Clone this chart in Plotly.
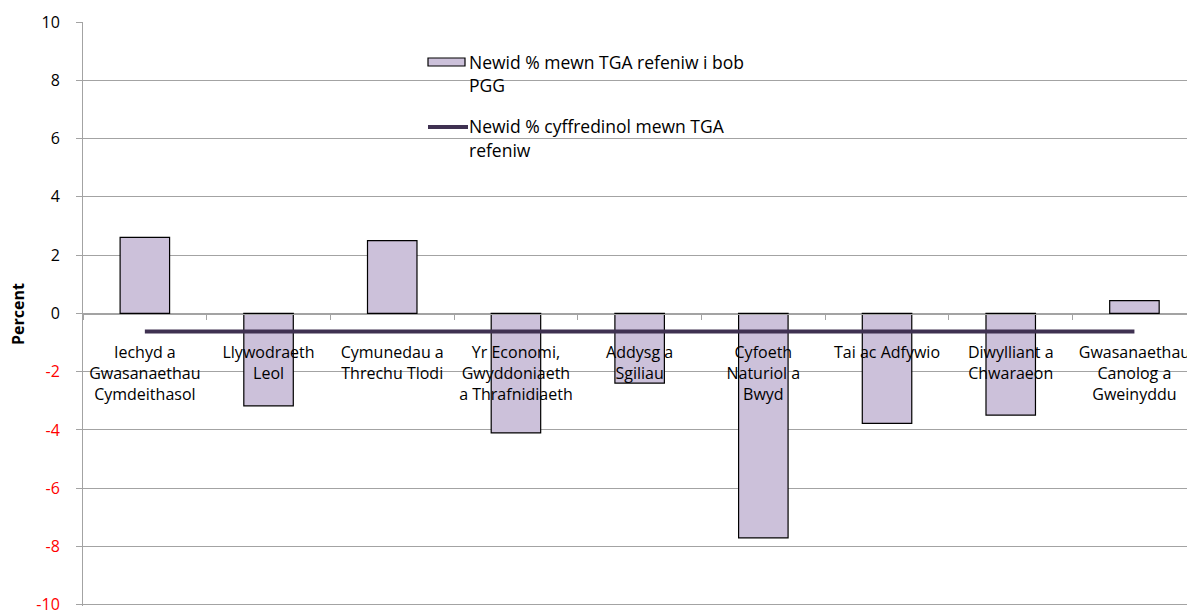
import plotly.graph_objects as go

categories = [
    "Iechyd a<br>Gwasanaethau<br>Cymdeithasol",
    "Llywodraeth<br>Leol",
    "Cymunedau a<br>Threchu Tlodi",
    "Yr Economi,<br>Gwyddoniaeth<br>a Thrafnidiaeth",
    "Addysg a<br>Sgiliau",
    "Cyfoeth<br>Naturiol a<br>Bwyd",
    "Tai ac Adfywio",
    "Diwylliant a<br>Chwaraeon",
    "Gwasanaethau<br>Canolog a<br>Gweinyddu",
]
bar_values = [2.61, -3.17, 2.50, -4.10, -2.39, -7.70, -3.77, -3.49, 0.44]
line_values = [-0.62, -0.62, -0.62, -0.62, -0.62, -0.62, -0.62, -0.62, -0.62]
bar_name = "Newid % mewn TGA refeniw i bob PGG"
line_name = "Newid % cyffredinol mewn TGA refeniw"
y_ticks = [-10, -8, -6, -4, -2, 0, 2, 4, 6, 8, 10]

FONT = "Open Sans"
W, H = 1187, 612
L, R, T, B = 83, 0, 22, 6
PW, PH = W - L - R, H - T - B

def px_x(px):
    return (px - L) / PW

def px_y(py):
    return (H - B - py) / PH

y_ticktext = [
    (f"<span style='color:#ff0000'>{v}</span>" if v < 0 else str(v)) for v in y_ticks
]

fig = go.Figure()
fig.add_trace(go.Bar(
    x=categories, y=bar_values, name=bar_name,
    marker=dict(color="#ccc1da", line=dict(color="#000000", width=1.2)),
    showlegend=False,
))
fig.add_trace(go.Scatter(
    x=categories, y=line_values, name=line_name, mode="lines",
    line=dict(color="#3f3151", width=4),
    showlegend=False,
))

grid = "#a3a3a3"
fig.update_layout(
    width=W, height=H,
    margin=dict(l=L, r=R, t=T, b=B, autoexpand=False),
    paper_bgcolor="white", plot_bgcolor="white",
    font=dict(family=FONT, size=16, color="#000000"),
    bargap=0.6,
    xaxis=dict(
        type="category",
        range=[-0.5, 8.425],
        anchor="free", position=0.5,
        automargin=False,
        showline=True, linecolor=grid, linewidth=1,
        ticks="outside", tickson="boundaries", ticklen=5, tickcolor=grid,
        showgrid=False, zeroline=False,
        ticklabelstandoff=24,
        tickfont=dict(family=FONT, size=16, color="#000000"),
    ),
    yaxis=dict(
        range=[-10.04, 10],
        automargin=False,
        tickvals=y_ticks, ticktext=y_ticktext,
        showline=True, linecolor=grid, linewidth=1,
        ticks="outside", ticklen=6, tickcolor=grid,
        showgrid=True, gridcolor=grid, gridwidth=1,
        zeroline=False,
        ticklabelstandoff=13,
        ticklabeloverflow="allow",
        tickfont=dict(family=FONT, size=16, color="#000000"),
    ),
)

# y axis title
fig.add_annotation(
    text="<b>Percent</b>", textangle=-90,
    xref="paper", yref="paper", x=px_x(18), y=0.5,
    xanchor="center", yanchor="middle", showarrow=False,
    font=dict(family=FONT, size=16, color="#000000"),
)

# legend (custom, to match swatch shapes)
fig.add_shape(type="rect", xref="paper", yref="paper",
              x0=px_x(428), x1=px_x(465), y0=px_y(66), y1=px_y(58),
              fillcolor="#ccc1da", line=dict(color="#000000", width=1.2))
fig.add_shape(type="line", xref="paper", yref="paper",
              x0=px_x(428), x1=px_x(468), y0=px_y(127), y1=px_y(127),
              line=dict(color="#3f3151", width=4))
legend_lines = [
    ("Newid % mewn TGA refeniw i bob", 62),
    ("PGG", 85),
    ("Newid % cyffredinol mewn TGA", 126),
    ("refeniw", 150),
]
for txt, cy in legend_lines:
    fig.add_annotation(
        text=txt, xref="paper", yref="paper",
        x=px_x(467), y=px_y(cy), xanchor="left", yanchor="middle",
        showarrow=False, font=dict(family=FONT, size=17.5, color="#000000"),
    )

fig.write_html(
    "out.html",
    config={"displayModeBar": False},
    post_script="document.body.style.margin='0';document.body.style.overflow='hidden';",
)
